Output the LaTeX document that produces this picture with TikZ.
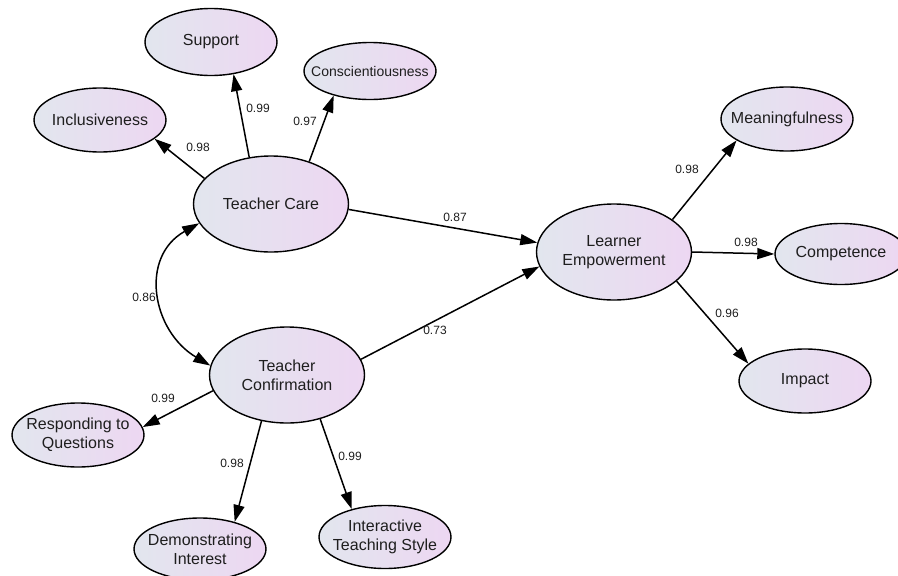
\documentclass[tikz,border=0pt]{standalone}
\usepackage{fontspec}
\setmainfont{Liberation Sans}
\usetikzlibrary{arrows.meta,shapes.geometric}
\definecolor{lcol}{RGB}{226,230,238}
\definecolor{rcol}{RGB}{237,215,242}
\definecolor{txt}{RGB}{30,30,30}
\begin{document}
\begin{tikzpicture}[x=1pt,y=-1pt,
  lat/.style={ellipse, draw=black, line width=1.4pt, left color=lcol, right color=rcol,
    inner xsep=-14pt, inner ysep=0pt, align=center, text=txt, font=\fontsize{16}{19}\selectfont},
  big/.style={lat, minimum width=155pt, minimum height=96pt},
  small/.style={lat, minimum width=132pt, minimum height=64pt},
  arr/.style={line width=1.5pt, -{Triangle[length=17pt,width=11pt]}},
  darr/.style={line width=1.5pt, {Triangle[length=17pt,width=11pt]}-{Triangle[length=17pt,width=11pt]}},
  lbl/.style={font=\fontsize{12}{14}\selectfont, text=txt, inner sep=0pt}]
\useasboundingbox (0,0) rectangle (898,576);
\fill[white] (0,0) rectangle (898,576);

\node[big] (tc) at (271,204) {Teacher Care};
\node[big] (le) at (614,252) {Learner\\Empowerment};
\node[big] (tf) at (287,375) {Teacher\\Confirmation};
\node[small, minimum height=67pt] (sup) at (211,42) {Support};
\node[small, minimum height=57pt, font=\fontsize{14}{16}\selectfont] (con) at (370,71) {Conscientiousness};
\node[small] (inc) at (100,120) {Inclusiveness};
\node[small] (mea) at (787,119) {Meaningfulness};
\node[small, minimum width=132pt, minimum height=61pt] (com) at (841,254) {Competence};
\node[small] (imp) at (805,381) {Impact};
\node[small] (res) at (78,435) {Responding to\\Questions};
\node[small, minimum height=62pt] (dem) at (200,549) {Demonstrating\\Interest};
\node[small, minimum height=63pt] (int) at (385,537) {Interactive\\Teaching Style};

\draw[arr] (tc.159) -- (inc.-19);
\draw[arr] (tc.115) -- (sup.-55);
\draw[arr] (tc.48) -- (con.-146);
\draw[arr] (tc.-4.5) -- (le.173);
\draw[arr] (tf.12) -- (le.-169);
\draw[darr] (tc.195) .. controls (139,257) and (152,331) .. (tf.173);
\draw[arr] (le.29) -- (mea.-157);
\draw[arr] (le.0) -- (com.180);
\draw[arr] (le.-25) -- (imp.163);
\draw[arr] (tf.192) -- (res.7);
\draw[arr] (tf.241) -- (dem.38);
\draw[arr] (tf.-53) -- (int.140);

\node[lbl] (l1) at (198,147) {0.98};
\node[lbl] (l2) at (258,108) {0.99};
\node[lbl] (l3) at (305,121) {0.97};
\node[lbl] (l4) at (455,217) {0.87};
\node[lbl] (l5) at (435,330) {0.73};
\node[lbl] (l6) at (144,297) {0.86};
\node[lbl] (l7) at (687,169) {0.98};
\node[lbl] (l8) at (746,242) {0.98};
\node[lbl] (l9) at (727,313) {0.96};
\node[lbl] (l10) at (163,398) {0.99};
\node[lbl] (l11) at (232,463) {0.98};
\node[lbl] (l12) at (350,456) {0.99};
\end{tikzpicture}
\end{document}
